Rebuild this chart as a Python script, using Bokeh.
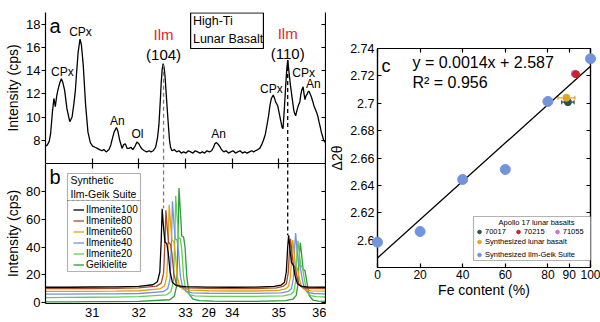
from bokeh.plotting import figure
from bokeh.layouts import row, column
from bokeh.models import (LinearAxis, FixedTicker, Label, BoxAnnotation, Legend,
                          LegendItem, Whisker, TeeHead, ColumnDataSource, Range1d)
from bokeh.embed import file_html
from bokeh.resources import INLINE

FONT = "Liberation Sans"

# ---------------- data ----------------
two_theta_ticks = [31, 32, 33, 34, 35, 36]
b_xticks = [31, 32, 33, 33.5, 34, 35, 36]
b_xtick_labels = ["31", "32", "33", "2θ", "34", "35", "36"]
a_yticks = [8, 10, 12, 14, 16, 18]
b_yticks = [0, 20, 40, 60, 80]
c_xticks = [0, 20, 40, 60, 80, 90, 100]
c_yticks = [2.6, 2.62, 2.64, 2.66, 2.68, 2.7, 2.72, 2.74]
c_ytick_labels = ["2.6", "2.62", "2.64", "2.66", "2.68", "2.7", "2.72", "2.74"]

# panel a: high-Ti lunar basalt scan (2theta, intensity cps)
scan_a = [
    (30.00, 7.5), (30.04, 7.6), (30.08, 7.9), (30.11, 8.6), (30.15, 10.5), (30.18, 11.6),
    (30.21, 10.9), (30.24, 11.8), (30.27, 12.4), (30.31, 13.0), (30.34, 13.3), (30.37, 13.0),
    (30.41, 12.3), (30.46, 10.7), (30.52, 9.6), (30.57, 10.0), (30.61, 11.2), (30.64, 12.3),
    (30.67, 14.0), (30.70, 15.6), (30.74, 16.7), (30.77, 16.2), (30.81, 14.4), (30.86, 11.0),
    (30.91, 8.7), (30.96, 7.8), (31.01, 7.5), (31.06, 7.4), (31.11, 7.3), (31.16, 7.2),
    (31.21, 7.1), (31.25, 7.2), (31.30, 7.0), (31.36, 7.2), (31.40, 7.6), (31.43, 8.1),
    (31.47, 8.7), (31.52, 9.1), (31.55, 8.8), (31.59, 8.0), (31.64, 7.3), (31.67, 7.6),
    (31.71, 7.7), (31.75, 7.3), (31.79, 7.3), (31.83, 7.4), (31.87, 7.2), (31.92, 7.5),
    (31.96, 7.85), (32.00, 7.7), (32.04, 7.4), (32.08, 7.2), (32.12, 7.1), (32.17, 7.0),
    (32.22, 7.1), (32.26, 7.0), (32.31, 7.1), (32.36, 7.4), (32.40, 8.2), (32.43, 9.3),
    (32.46, 11.4), (32.48, 13.0), (32.50, 14.1), (32.52, 14.6), (32.54, 14.3), (32.56, 13.6),
    (32.58, 12.4), (32.61, 10.6), (32.64, 8.9), (32.66, 7.9), (32.68, 7.4), (32.71, 7.1),
    (32.76, 7.2), (32.81, 7.0), (32.86, 7.1), (32.91, 6.9), (32.96, 7.0), (33.01, 6.9),
    (33.06, 7.1), (33.11, 7.0), (33.16, 6.9), (33.21, 7.1), (33.26, 7.0), (33.31, 6.9),
    (33.36, 7.0), (33.41, 6.9), (33.46, 7.1), (33.51, 7.0), (33.56, 7.1), (33.60, 7.4),
    (33.63, 7.7), (33.66, 7.8), (33.69, 7.7), (33.73, 7.5), (33.77, 7.2), (33.82, 7.0),
    (33.87, 7.1), (33.92, 6.9), (33.97, 7.0), (34.02, 7.1), (34.07, 6.9), (34.12, 7.0),
    (34.17, 7.1), (34.22, 6.9), (34.27, 7.0), (34.32, 6.9), (34.37, 7.0), (34.42, 7.1),
    (34.46, 7.0), (34.50, 7.1), (34.55, 7.2), (34.59, 7.3), (34.63, 7.6), (34.67, 8.0),
    (34.71, 8.5), (34.75, 9.4), (34.78, 10.1), (34.81, 11.0), (34.84, 11.6), (34.88, 11.9),
    (34.91, 11.6), (34.93, 11.3), (34.96, 11.1), (34.98, 10.9), (35.01, 10.3), (35.04, 9.7),
    (35.07, 9.1), (35.09, 9.0), (35.11, 10.2), (35.13, 11.5), (35.15, 12.9), (35.17, 14.1),
    (35.19, 14.9), (35.21, 14.2), (35.23, 13.4), (35.25, 12.7), (35.27, 12.1), (35.30, 11.2),
    (35.32, 10.6), (35.34, 10.3), (35.36, 10.1), (35.39, 10.6), (35.41, 10.9), (35.43, 11.1),
    (35.45, 11.3), (35.47, 11.9), (35.49, 12.3), (35.52, 12.6), (35.54, 12.0), (35.56, 11.5),
    (35.58, 11.8), (35.61, 12.0), (35.63, 12.2), (35.65, 12.2), (35.68, 11.9), (35.70, 11.7),
    (35.73, 11.3), (35.75, 11.0), (35.78, 10.7), (35.81, 10.4), (35.84, 10.0), (35.86, 9.6),
    (35.89, 9.1), (35.91, 8.7), (35.94, 8.3), (35.96, 8.0), (36.00, 7.8),
]

# Ilmenite (104) and (110) reflections
ilm_peaks = [32.53, 35.19]
ilm_peak_a = [14.5, 14.9]
ilm_peak_b = [68.0, 48.5]

# panel b: synthetic ilmenite-geikielite suite
ilm100_x = [30.0, 30.5, 31.0, 31.5, 32.0, 32.3, 32.4, 32.45, 32.48, 32.50, 32.53, 32.56, 32.60, 32.63, 32.67,
            32.72, 32.80, 33.0, 33.5, 34.0, 34.5, 34.9, 35.05, 35.12, 35.16, 35.19, 35.21, 35.24, 35.27, 35.31,
            35.35, 35.40, 35.48, 35.6, 36.0]
ilm100_y = [11.0, 11.0, 11.2, 11.3, 11.6, 12.8, 15.0, 22.0, 45.0, 67.5, 54.0, 43.5, 42.5, 36.0, 22.0,
            14.5, 12.2, 11.4, 11.1, 11.0, 11.1, 11.6, 12.6, 14.5, 22.0, 40.0, 48.5, 38.0, 29.0, 27.0,
            19.0, 13.5, 11.8, 11.2, 11.0]
ilm80_x = [30.0, 30.5, 31.0, 31.5, 32.0, 32.38, 32.48, 32.53, 32.56, 32.58, 32.61, 32.64, 32.68, 32.71, 32.75,
           32.80, 32.88, 33.0, 33.5, 34.0, 34.5, 34.95, 35.09, 35.16, 35.20, 35.23, 35.25, 35.28, 35.31, 35.35,
           35.39, 35.44, 35.52, 35.6, 36.0]
ilm80_y = [10.0, 10.0, 10.1, 10.3, 10.6, 11.8, 14.0, 21.0, 44.0, 66.5, 53.0, 43.0, 42.0, 35.0, 21.0,
           13.5, 11.2, 10.6, 10.2, 10.0, 10.1, 10.6, 11.6, 13.5, 21.0, 38.0, 46.0, 36.0, 27.0, 25.5,
           18.0, 12.5, 10.8, 10.3, 10.0]
ilm60_x = [30.0, 30.5, 31.0, 31.5, 32.0, 32.45, 32.55, 32.60, 32.63, 32.65, 32.68, 32.71, 32.75, 32.78, 32.82,
           32.87, 32.95, 33.1, 33.5, 34.0, 34.5, 35.0, 35.14, 35.21, 35.25, 35.28, 35.30, 35.33, 35.36, 35.40,
           35.44, 35.49, 35.57, 35.7, 36.0]
ilm60_y = [8.0, 8.0, 8.1, 8.2, 8.5, 9.8, 12.0, 19.0, 43.0, 70.5, 56.0, 45.0, 44.0, 36.0, 20.0,
           12.0, 9.6, 8.9, 8.5, 8.3, 8.3, 8.7, 9.8, 11.8, 19.0, 36.0, 45.0, 35.0, 26.0, 24.5,
           17.0, 11.0, 9.0, 8.4, 8.2]
ilm40_x = [30.0, 30.5, 31.0, 31.5, 32.0, 32.52, 32.62, 32.67, 32.70, 32.72, 32.75, 32.78, 32.82, 32.85, 32.89,
           32.94, 33.02, 33.15, 33.5, 34.0, 34.5, 35.05, 35.20, 35.27, 35.31, 35.34, 35.36, 35.39, 35.42, 35.46,
           35.50, 35.55, 35.63, 35.75, 36.0]
ilm40_y = [6.0, 6.1, 6.2, 6.3, 6.5, 7.8, 10.0, 17.0, 45.0, 73.0, 58.0, 46.0, 45.0, 37.0, 19.0,
           10.5, 7.8, 7.0, 6.7, 6.6, 6.6, 7.0, 8.0, 10.0, 17.0, 40.0, 50.0, 38.0, 28.0, 26.0,
           17.0, 9.5, 7.2, 6.5, 6.3]
ilm20_x = [30.0, 30.5, 31.0, 31.5, 32.0, 32.59, 32.69, 32.74, 32.77, 32.79, 32.82, 32.85, 32.89, 32.92, 32.96,
           33.01, 33.09, 33.2, 33.5, 34.0, 34.5, 35.1, 35.25, 35.32, 35.36, 35.39, 35.41, 35.44, 35.47, 35.51,
           35.55, 35.60, 35.68, 35.8, 36.0]
ilm20_y = [3.6, 3.7, 3.8, 3.9, 4.2, 5.5, 8.0, 15.0, 45.0, 77.0, 62.0, 47.0, 46.0, 38.0, 18.0,
           8.5, 5.6, 4.8, 4.5, 4.4, 4.4, 4.8, 5.8, 8.0, 15.0, 36.0, 44.5, 35.0, 27.0, 25.0,
           16.0, 7.5, 5.0, 4.3, 4.0]
geik_x = [30.0, 30.5, 31.0, 31.5, 32.0, 32.66, 32.76, 32.81, 32.84, 32.86, 32.89, 32.92, 32.96, 32.99, 33.03,
          33.08, 33.16, 33.3, 33.6, 34.0, 34.5, 35.15, 35.30, 35.37, 35.41, 35.44, 35.46, 35.49, 35.52, 35.56,
          35.60, 35.65, 35.73, 35.85, 36.0]
geik_y = [0.5, 0.5, 0.6, 0.7, 0.9, 2.0, 4.5, 12.0, 46.0, 82.5, 66.0, 48.0, 47.0, 40.0, 18.0,
          6.0, 2.4, 1.4, 1.0, 0.9, 0.9, 1.3, 2.4, 5.0, 13.0, 35.0, 43.0, 34.0, 24.0, 23.0,
          15.0, 5.0, 1.8, 1.0, 0.8]
suite_names = ["Ilmenite100", "Ilmenite80", "Ilmenite60", "Ilmenite40", "Ilmenite20", "Geikielite"]
suite_colors = ["#000000", "#a8492b", "#e3a112", "#7393dd", "#63cf52", "#2e9a3c"]

# panel c
suite_fe = [0, 20, 40, 60, 80, 100]
suite_d2t = [2.5985, 2.6063, 2.6443, 2.6516, 2.7013, 2.7325]
apollo_names = ["70017", "70215", "71055"]
apollo_fe = [89.4, 93.2, 92.6]
apollo_d2t = [2.7008, 2.7212, 2.7216]
apollo_fe_err = [2.9, 2.2, 1.6]
apollo_colors = ["#2f4f4c", "#c8232b", "#cf6ccc"]
lunar_fe = [88.7]
lunar_d2t = [2.7040]
lunar_fe_err = [4.0]
fit_x = [0, 100]
fit_y = [2.587, 2.727]


# ---------------- helpers ----------------
def make_axis(ticks, labels=True, title=None, tick_in=0, tick_out=4, size="13px", line=True):
    ax = LinearAxis(ticker=FixedTicker(ticks=ticks, minor_ticks=[]))
    ax.major_tick_in = tick_in
    ax.major_tick_out = tick_out
    ax.minor_tick_in = 0
    ax.minor_tick_out = 0
    ax.axis_line_color = "black" if line else None
    ax.axis_line_width = 1.2
    ax.major_tick_line_color = "black"
    ax.major_tick_line_width = 1.2
    if labels:
        ax.major_label_text_font = FONT
        ax.major_label_text_font_size = size
        ax.major_label_text_color = "black"
        ax.major_label_standoff = 1
    else:
        ax.major_label_overrides = {t: "" for t in ticks}
        ax.major_label_text_font_size = "1px"
        ax.major_label_standoff = 0
    if title:
        ax.axis_label = title
        ax.axis_label_text_font = FONT
        ax.axis_label_text_font_size = "14px"
        ax.axis_label_text_font_style = "normal"
        ax.axis_label_text_color = "black"
        ax.axis_label_standoff = 2
    return ax


def lab(fig, text, x, y, size="12px", color="black", align="center", baseline="middle",
        units="data", y_units=None):
    fig.add_layout(Label(x=x, y=y, x_units=units, y_units=y_units or units, text=text,
                         text_font=FONT, text_font_size=size, text_color=color,
                         text_align=align, text_baseline=baseline))


def base_fig(**kw):
    f = figure(toolbar_location=None, output_backend="svg", x_axis_location=None,
               y_axis_location=None, **kw)
    f.grid.visible = False
    f.outline_line_color = None
    f.background_fill_color = "white"
    f.border_fill_color = "white"
    return f


# ---------------- panel a ----------------
fa = base_fig(width=326, height=163, x_range=Range1d(30, 36), y_range=Range1d(6, 19),
              min_border_left=45, min_border_right=1, min_border_top=12, min_border_bottom=0)
fa.add_layout(make_axis(a_yticks, title="Intensity (cps)"), "left")
fa.add_layout(make_axis(a_yticks, labels=False, tick_in=4, tick_out=0), "right")
fa.add_layout(make_axis(two_theta_ticks, labels=False, tick_in=5, tick_out=0, line=False), "below")

fa.line([p[0] for p in scan_a], [p[1] for p in scan_a], line_color="black", line_width=1.3)
fa.segment(x0=ilm_peaks[0:1], y0=ilm_peak_a[0:1], x1=ilm_peaks[0:1], y1=[6, ],
           line_color="#7a7a7a", line_width=1.3, line_dash="4 3")
fa.segment(x0=ilm_peaks[1:2], y0=ilm_peak_a[1:2], x1=ilm_peaks[1:2], y1=[6, ],
           line_color="black", line_width=1.3, line_dash="4 3")

lab(fa, "a", 4, 149, size="20px", align="left", baseline="top", units="screen")
lab(fa, "CPx", 30.36, 13.9)
lab(fa, "CPx", 30.75, 17.35)
lab(fa, "An", 31.54, 9.7)
lab(fa, "Ol", 31.97, 8.5)
lab(fa, "Ilm", 32.53, 17.1, size="15px", color="#e3242b")
lab(fa, "(104)", 32.53, 15.35, size="15px")
lab(fa, "An", 33.71, 8.5)
lab(fa, "CPx", 34.84, 12.45)
lab(fa, "Ilm", 35.19, 17.2, size="15px", color="#e3242b")
lab(fa, "(110)", 35.19, 15.5, size="15px")
lab(fa, "CPx", 35.53, 13.75)
lab(fa, "An", 35.74, 12.85)
fa.add_layout(BoxAnnotation(left=33.11, right=34.67, top=18.96, bottom=15.9, fill_color=None,
                            line_color="black", line_width=1.2, line_alpha=1))
lab(fa, "High-Ti", 33.16, 18.3, size="12.5px", align="left")
lab(fa, "Lunar Basalt", 33.16, 16.75, size="12.5px", align="left")

# ---------------- panel b ----------------
fb = base_fig(width=326, height=159, x_range=fa.x_range, y_range=Range1d(-0.7, 100.2),
              min_border_left=45, min_border_right=1, min_border_top=0, min_border_bottom=19)
fb.add_layout(make_axis(b_yticks, title="Intensity (cps)"), "left")
fb.add_layout(make_axis(b_yticks, labels=False, tick_in=4, tick_out=0), "right")
fb.add_layout(make_axis(two_theta_ticks, labels=False, tick_in=5, tick_out=0), "above")
bax = make_axis(b_xticks, tick_in=0, tick_out=0, size="13px")
bax.major_label_overrides = {t: s for t, s in zip(b_xticks, b_xtick_labels)}
fb.add_layout(bax, "below")

series = [(ilm100_x, ilm100_y), (ilm80_x, ilm80_y), (ilm60_x, ilm60_y),
          (ilm40_x, ilm40_y), (ilm20_x, ilm20_y), (geik_x, geik_y)]
renderers = [None] * 6
for i in range(5, -1, -1):
    xs, ys = series[i]
    renderers[i] = fb.line(xs, ys, line_color=suite_colors[i], line_width=1.3)

fb.segment(x0=ilm_peaks[0:1], y0=[100.2], x1=ilm_peaks[0:1], y1=ilm_peak_b[0:1],
           line_color="#7a7a7a", line_width=1.3, line_dash="4 3")
fb.segment(x0=ilm_peaks[1:2], y0=[100.2], x1=ilm_peaks[1:2], y1=ilm_peak_b[1:2],
           line_color="black", line_width=1.3, line_dash="4 3")

fb.add_layout(BoxAnnotation(left=22, right=95, bottom=32, top=130, left_units="screen",
                            right_units="screen", top_units="screen", bottom_units="screen",
                            fill_color="white", fill_alpha=1, line_color="black", line_width=1.2))
fb.add_layout(BoxAnnotation(left=22, right=95, bottom=103, top=103, left_units="screen",
                            right_units="screen", top_units="screen", bottom_units="screen",
                            fill_color=None, line_color="black", line_width=1, line_dash="3 2"))
lab(fb, "Synthetic", 25, 124, size="10.5px", align="left", units="screen")
lab(fb, "Ilm-Geik Suite", 25, 110, size="10.5px", align="left", units="screen")
leg_b = Legend(items=[LegendItem(label=suite_names[i], renderers=[renderers[i]]) for i in range(6)],
               location=(28, 33), orientation="vertical", border_line_color=None,
               background_fill_alpha=0, padding=0, margin=0, spacing=0, label_standoff=2,
               glyph_width=11, glyph_height=11, label_height=11, label_text_font=FONT,
               label_text_font_size="10px", label_text_color="black")
fb.add_layout(leg_b)
lab(fb, "b", 4, 138, size="20px", align="left", baseline="top", units="screen")

# ---------------- panel c ----------------
fc = base_fig(width=274, height=322, x_range=Range1d(0, 100), y_range=Range1d(2.58, 2.74),
              min_border_left=45, min_border_right=10, min_border_top=48, min_border_bottom=55)
fc.outline_line_color = "black"
fc.outline_line_width = 1.2
yax = make_axis(c_yticks, title="Δ2θ", tick_in=4, tick_out=0, size="12.5px")
yax.major_label_overrides = {t: s for t, s in zip(c_yticks, c_ytick_labels)}
yax.major_label_standoff = 3
fc.add_layout(yax, "left")
fc.add_layout(make_axis(c_yticks, labels=False, tick_in=4, tick_out=0), "right")
fc.add_layout(make_axis(c_xticks, labels=False, tick_in=4, tick_out=0), "above")
xax = make_axis(c_xticks, title="Fe content (%)", tick_in=4, tick_out=0, size="12px")
xax.major_label_standoff = 2
xax.axis_label_standoff = 0
fc.add_layout(xax, "below")

fc.line(fit_x, fit_y, line_color="black", line_width=1.3)
r_suite = fc.scatter(suite_fe, suite_d2t, size=10, color="#7393dd", level="overlay")

wsrc = ColumnDataSource(dict(y=apollo_d2t[0:1] + lunar_d2t,
                             lo=[apollo_fe[0] - apollo_fe_err[0], lunar_fe[0] - lunar_fe_err[0]],
                             hi=[apollo_fe[0] + apollo_fe_err[0], lunar_fe[0] + lunar_fe_err[0]],
                             c=[apollo_colors[0], "#e3a526"]))
r_a = []
r_a.append(fc.scatter(apollo_fe[2:3], apollo_d2t[2:3], size=7, color=apollo_colors[2]))
r_a.append(fc.scatter(apollo_fe[1:2], apollo_d2t[1:2], size=7, color=apollo_colors[1]))
fc.segment(x0=[apollo_fe[1] - apollo_fe_err[1]], x1=[apollo_fe[1] + apollo_fe_err[1]],
           y0=apollo_d2t[1:2], y1=apollo_d2t[1:2], line_color=apollo_colors[1], line_width=1.2)
fc.add_layout(Whisker(source=wsrc, base="y", lower="lo", upper="hi", dimension="width",
                      line_color="c", line_width=1.2,
                      upper_head=TeeHead(size=4, line_color="c", line_width=1.2),
                      lower_head=TeeHead(size=4, line_color="c", line_width=1.2)))
r_a.append(fc.scatter(apollo_fe[0:1], apollo_d2t[0:1], size=7, color=apollo_colors[0]))
r_lunar = fc.scatter(lunar_fe, lunar_d2t, size=7, color="#e3a526")

lab(fc, "c", 4, 212, size="18px", align="left", baseline="top", units="screen")
lab(fc, "y = 0.0014x + 2.587", 16.4, 2.7298, size="16px", align="left")
lab(fc, "R² = 0.956", 16.4, 2.7152, size="16px", align="left")

fc.add_layout(BoxAnnotation(left=96, right=219, bottom=7, top=51, left_units="screen",
                            right_units="screen", top_units="screen", bottom_units="screen",
                            fill_color="white", fill_alpha=1, line_color="black", line_width=1.2))
lab(fc, "Apollo 17 lunar basalts", 159, 45, size="7.5px", units="screen")
leg_a = Legend(items=[LegendItem(label=apollo_names[0], renderers=[r_a[2]]),
                      LegendItem(label=apollo_names[1], renderers=[r_a[1]]),
                      LegendItem(label=apollo_names[2], renderers=[r_a[0]])],
               location=(97, 31), orientation="horizontal", border_line_color=None,
               background_fill_alpha=0, padding=0, margin=0, spacing=7, label_standoff=1,
               glyph_width=10, glyph_height=9, label_height=9, label_text_font=FONT,
               label_text_font_size="7.5px", label_text_color="black")
leg_s = Legend(items=[LegendItem(label="Synthesized lunar basalt", renderers=[r_lunar]),
                      LegendItem(label="Synthesized Ilm-Geik Suite", renderers=[r_suite])],
               location=(97, 8), orientation="vertical", border_line_color=None,
               background_fill_alpha=0, padding=0, margin=0, spacing=4, label_standoff=1,
               glyph_width=10, glyph_height=9, label_height=9, label_text_font=FONT,
               label_text_font_size="7.5px", label_text_color="black")
fc.add_layout(leg_a)
fc.add_layout(leg_s)

layout = row(column(fa, fb), fc)
open("out.html", "w").write(file_html(layout, INLINE))
